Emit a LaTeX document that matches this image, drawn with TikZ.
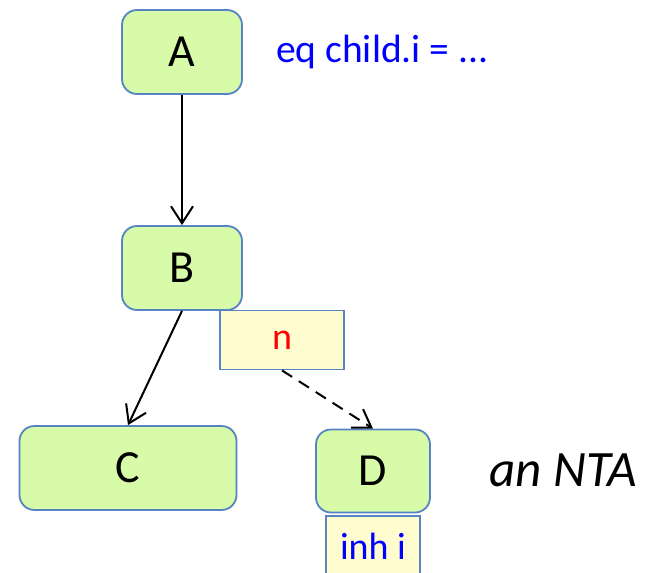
\documentclass[tikz,border=0pt]{standalone}
\usepackage{fontspec}
\setmainfont{Carlito}
\usetikzlibrary{arrows.meta}
\definecolor{nodegreen}{HTML}{D7FBA8}
\definecolor{nodeline}{HTML}{5683C2}
\definecolor{attryellow}{HTML}{FFFCCF}
\begin{document}
\begin{tikzpicture}[x=1pt,y=-1pt,
  every node/.style={inner sep=0pt},
  ast/.style={draw=nodeline,fill=nodegreen,line width=1.8pt,rounded corners=15pt,font=\fontsize{46}{50}\selectfont},
  attr/.style={draw=nodeline,fill=attryellow,line width=1.8pt,font=\fontsize{38}{44}\selectfont},
  edge/.style={line width=2pt,-{Straight Barb[length=17pt,width=22pt,line width=2pt]}}]
\useasboundingbox (0,0) rectangle (654,573);
\node [ast,minimum width=120pt,minimum height=84pt] (A) at (182,52) {A};
\node [text=blue,anchor=west,font=\fontsize{39.5}{44}\selectfont] (eq) at (276,52) {eq child.i = ...};
\node [ast,minimum width=120pt,minimum height=84pt] (B) at (182,268) {B};
\node [attr,minimum width=124pt,minimum height=59pt,text=red] (n) at (282,340) {n};
\node [ast,minimum width=217pt,minimum height=84pt] (C) at (128,468) {C};
\node [ast,minimum width=114pt,minimum height=83pt] (D) at (373,471) {D};
\node [attr,minimum width=94pt,minimum height=70pt,text=blue,anchor=north] (inh) at (373,515) {};
\node [text=blue,font=\fontsize{38}{44}\selectfont] (inhi) at (373,546) {inh i};
\node [font=\fontsize{51}{56}\selectfont\itshape] (nta) at (563,470) {an NTA};
\draw [edge] (A.south) -- (B.north);
\draw [edge] (B.south) -- (C.north);
\draw [edge,dash pattern=on 12pt off 8pt] (n.south) -- (D.north);
\end{tikzpicture}
\end{document}
